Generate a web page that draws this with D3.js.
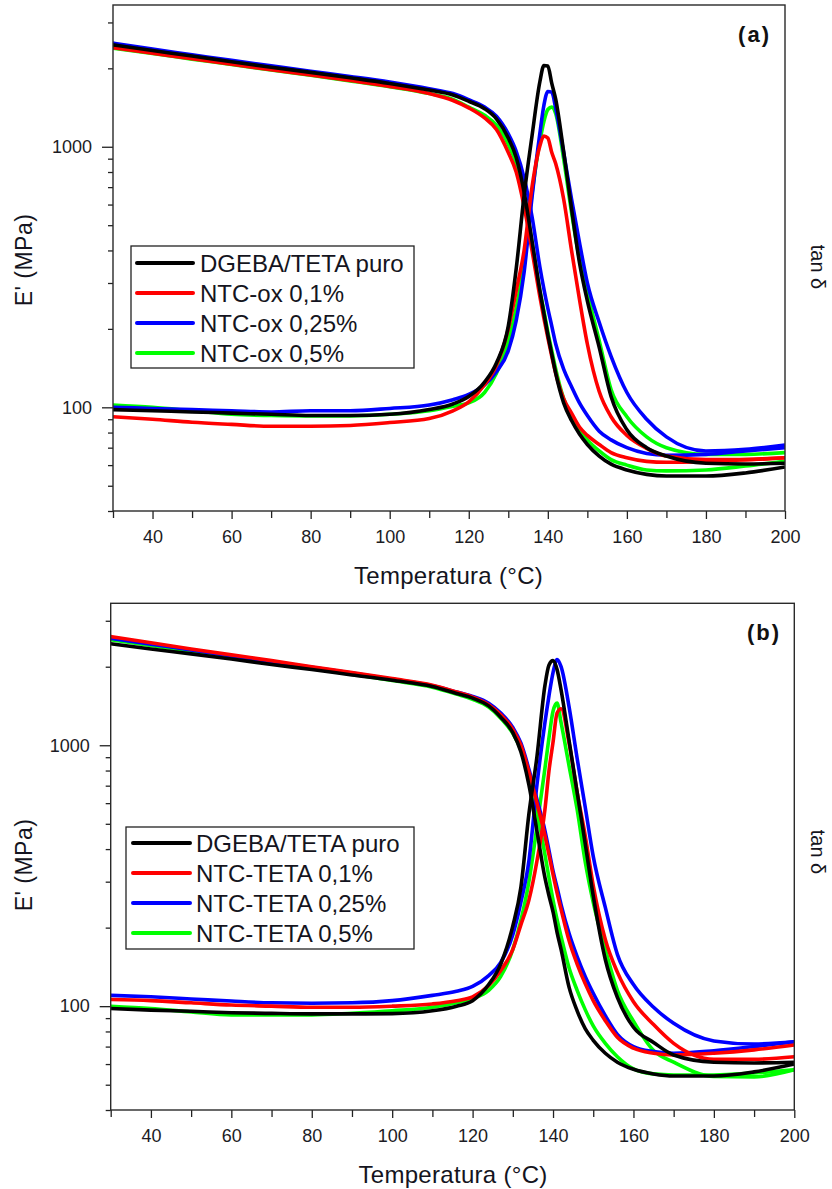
<!DOCTYPE html>
<html><head><meta charset="utf-8">
<script src="https://cdn.jsdelivr.net/npm/d3@7"></script>
<style>
body{margin:0;background:#fff}
svg{display:block}
text{font-family:"Liberation Sans",Arial,Helvetica,sans-serif}
</style>
</head><body>
<svg id="c" width="832" height="1189"></svg>
<script>
// ---------------- DATA ----------------
const temperatures = [30,40,50,60,70,80,90,100,110,116,120,124,127,130,132,134,136,138,139,140,141,142,144,146,148,150,153,156,160,165,170,180,190,200];
const xTickLabels = [40,60,80,100,120,140,160,180,200];
const xMinorTicks = [30,50,70,90,110,130,150,170,190];
const yTickLabels = [100,1000];
const yMinorTicks = [40,50,60,70,80,90,200,300,400,500,600,700,800,900,2000,3000];

const seriesColors = ["#000000","#ff0000","#0000ff","#00ff00"];
const legendA = ["DGEBA/TETA puro","NTC-ox 0,1%","NTC-ox 0,25%","NTC-ox 0,5%"];
const legendB = ["DGEBA/TETA puro","NTC-TETA 0,1%","NTC-TETA 0,25%","NTC-TETA 0,5%"];
const panelLabels = ["(a)","(b)"];

// Panel (a) storage modulus E' (MPa)
const eA_puro = [2460,2340,2230,2120,2020,1930,1840,1750,1650,1580,1495,1400,1280,1080,910,670,435,280,230,190,160,135,104,89,79,72,65,60.5,57.5,55.3,54.5,54.5,56,59];
const eA_01   = [2400,2285,2175,2075,1975,1885,1795,1705,1600,1505,1410,1290,1165,950,800,590,400,265,220,185,157,135,108,95,84,78,72,67,64,62,61.5,62,63,64];
const eA_025  = [2500,2370,2255,2145,2045,1950,1860,1770,1670,1600,1515,1420,1310,1120,960,760,540,345,285,240,205,175,140,120,104,93,81,75,70,66.5,65.5,66,68,70];
const eA_05   = [2390,2280,2170,2070,1970,1880,1790,1700,1600,1520,1420,1320,1210,1020,860,640,430,280,235,195,165,140,108,92,82,75,68,63,60,57.5,57,57.5,59.5,62];
// Panel (a) tan delta
const tA_puro = [0.049,0.0485,0.048,0.0475,0.047,0.0465,0.0465,0.047,0.049,0.0515,0.055,0.0625,0.074,0.1025,0.17,0.325,0.55,0.89,1.025,1.02,0.875,0.76,0.48,0.29,0.18,0.128,0.085,0.055,0.041,0.035,0.0325,0.0305,0.0303,0.0305];
const tA_01   = [0.046,0.045,0.0438,0.043,0.0423,0.0423,0.0426,0.0437,0.0453,0.0485,0.0525,0.061,0.0725,0.1,0.14,0.2,0.35,0.505,0.55,0.54,0.475,0.43,0.315,0.2,0.13,0.0875,0.0575,0.046,0.039,0.0348,0.0325,0.0315,0.0315,0.032];
const tA_025  = [0.05,0.0495,0.049,0.0485,0.048,0.0485,0.0485,0.0495,0.051,0.0535,0.056,0.061,0.0685,0.0825,0.1075,0.165,0.32,0.565,0.72,0.815,0.81,0.7,0.475,0.315,0.215,0.15,0.106,0.0785,0.057,0.045,0.0385,0.034,0.0345,0.0358];
const tA_05   = [0.051,0.05,0.0485,0.047,0.0465,0.0463,0.0463,0.047,0.0485,0.0505,0.052,0.057,0.0675,0.09,0.12,0.18,0.33,0.525,0.625,0.695,0.71,0.67,0.45,0.28,0.185,0.1375,0.09,0.0585,0.046,0.0385,0.035,0.033,0.033,0.0335];

// Panel (b) storage modulus E' (MPa)
const eB_puro = [2450,2340,2240,2140,2040,1950,1860,1775,1680,1580,1515,1415,1280,1118,945,705,469,310,265,230,192,165,118,96,82,74,66,61,57.3,55,54,54,56,60];
const eB_01   = [2610,2470,2340,2220,2110,2000,1900,1800,1700,1600,1530,1430,1310,1150,1000,790,600,450,380,320,272,235,178,145,122,105,88,76,69,66,65,66,68,71];
const eB_025  = [2570,2440,2320,2200,2090,1990,1890,1790,1690,1600,1540,1450,1330,1170,1020,810,620,470,395,330,285,245,190,155,130,112,92,78,70,67,66,67.5,70,73];
const eB_05   = [2540,2410,2290,2180,2070,1970,1870,1770,1670,1570,1500,1400,1270,1110,960,760,560,380,310,255,215,185,140,115,97,84,72,64,57.5,55,54.5,54.5,55.5,57];
// Panel (b) tan delta
const tB_puro = [0.049,0.0483,0.0478,0.0472,0.0469,0.0467,0.0467,0.0468,0.048,0.05,0.0525,0.0605,0.0725,0.1015,0.1425,0.2725,0.452,0.85,1.015,1.055,0.975,0.815,0.52,0.33,0.21,0.1325,0.0755,0.054,0.0415,0.0363,0.0325,0.0305,0.0303,0.0305];
const tB_01   = [0.053,0.0525,0.0515,0.0505,0.05,0.0495,0.0495,0.05,0.051,0.0525,0.0543,0.06,0.0685,0.0825,0.1025,0.1275,0.18,0.285,0.4,0.5135,0.665,0.69,0.508,0.3295,0.2255,0.145,0.09,0.0675,0.052,0.0425,0.036,0.0313,0.0313,0.032];
const tB_025  = [0.055,0.0543,0.0533,0.0523,0.0515,0.0513,0.0515,0.0525,0.055,0.057,0.0595,0.0655,0.0735,0.094,0.125,0.18,0.3525,0.6125,0.775,0.95,1.065,1.0,0.7,0.445,0.29,0.1875,0.1195,0.079,0.0605,0.0495,0.043,0.0368,0.0358,0.0365];
const tB_05   = [0.05,0.049,0.0475,0.0463,0.0463,0.0463,0.047,0.048,0.0495,0.0515,0.0535,0.0575,0.065,0.0825,0.1065,0.15,0.244,0.409,0.535,0.675,0.725,0.61,0.416,0.2835,0.179,0.125,0.0825,0.0575,0.0438,0.0338,0.0305,0.0269,0.0268,0.0285];

// ---------------- LAYOUT ----------------
const panels = [
  {left:113, right:785, top:5, bottom:511,
   names:legendA, label:panelLabels[0],
   E:[eA_puro,eA_01,eA_025,eA_05], T:[tA_puro,tA_01,tA_025,tA_05],
   legend:{x:131,y:246,w:283,h:122,lineX0:137,lineX1:193,textX:200,row0:263},
   labelPos:{x:771,y:42}, xTitle:{x:448.5,y:584}, yTitle:{x:24,y:260}, tanTitle:{x:818,y:267}},
  {left:110.7, right:794.3, top:603.3, bottom:1110,
   names:legendB, label:panelLabels[1],
   E:[eB_puro,eB_01,eB_025,eB_05], T:[tB_puro,tB_01,tB_025,tB_05],
   legend:{x:126,y:827,w:288,h:122,lineX0:133,lineX1:190,textX:196,row0:843},
   labelPos:{x:781,y:640}, xTitle:{x:453,y:1183}, yTitle:{x:24,y:865}, tanTitle:{x:818,y:852}}
];

const svg = d3.select("#c");
const drawOrder = [3,2,1,0];

panels.forEach((p, pi) => {
  const x = d3.scaleLinear().domain([30,200]).range([p.left, p.right]);
  const y = d3.scaleLog().domain([40,3500]).range([p.bottom, p.top]);
  const yt = d3.scaleLog().domain([0.02,1.75]).range([p.bottom, p.top]);
  const g = svg.append("g");

  const clipId = "clip" + pi;
  svg.append("defs").append("clipPath").attr("id", clipId)
    .append("rect").attr("x", p.left).attr("y", p.top)
    .attr("width", p.right - p.left).attr("height", p.bottom - p.top);

  // axes
  const styleAxis = sel => {
    sel.select(".domain").remove();
    sel.selectAll("line").attr("stroke", "#222").attr("stroke-width", 1.3);
    sel.selectAll("text").attr("font-size", 18).attr("fill", "#1c1c24")
      .attr("font-family", '"Liberation Sans",Arial,sans-serif');
  };
  g.append("g").attr("transform", `translate(${p.left},0)`)
    .call(d3.axisLeft(y).tickValues(yMinorTicks).tickSize(5).tickFormat(""))
    .call(styleAxis);
  g.append("g").attr("transform", `translate(${p.left},0)`)
    .call(d3.axisLeft(y).tickValues(yTickLabels).tickSize(11).tickPadding(10).tickFormat(d3.format("d")))
    .call(styleAxis);
  g.append("g").attr("transform", `translate(0,${p.bottom})`)
    .call(d3.axisBottom(x).tickValues(xMinorTicks).tickSize(7).tickFormat(""))
    .call(styleAxis);
  g.append("g").attr("transform", `translate(0,${p.bottom})`)
    .call(d3.axisBottom(x).tickValues(xTickLabels).tickSize(8).tickPadding(11).tickFormat(d3.format("d")))
    .call(styleAxis);

  // curves
  const curves = g.append("g").attr("clip-path", `url(#${clipId})`);
  const lineE = d3.line().x((d,i) => x(temperatures[i])).y(d => y(d)).curve(d3.curveMonotoneX);
  const lineT = d3.line().x((d,i) => x(temperatures[i])).y(d => yt(d)).curve(d3.curveMonotoneX);
  drawOrder.forEach(si => {
    curves.append("path").attr("d", lineE(p.E[si])).attr("fill", "none")
      .attr("stroke", seriesColors[si]).attr("stroke-width", 3.6).attr("stroke-linejoin", "round");
    curves.append("path").attr("d", lineT(p.T[si])).attr("fill", "none")
      .attr("stroke", seriesColors[si]).attr("stroke-width", 3.6).attr("stroke-linejoin", "round");
  });

  // frame
  g.append("rect").attr("x", p.left).attr("y", p.top)
    .attr("width", p.right - p.left).attr("height", p.bottom - p.top)
    .attr("fill", "none").attr("stroke", "#2a2a2a").attr("stroke-width", 1.4);

  // legend
  const L = p.legend;
  const lg = g.append("g");
  lg.append("rect").attr("x", L.x).attr("y", L.y).attr("width", L.w).attr("height", L.h)
    .attr("fill", "#fff").attr("stroke", "#222").attr("stroke-width", 1.3);
  p.names.forEach((n, i) => {
    const cy = L.row0 + i * 30;
    lg.append("line").attr("x1", L.lineX0).attr("x2", L.lineX1).attr("y1", cy).attr("y2", cy)
      .attr("stroke", seriesColors[i]).attr("stroke-width", 4).attr("stroke-linecap", "round");
    lg.append("text").attr("x", L.textX).attr("y", cy).attr("dy", "0.36em")
      .attr("font-size", 24).attr("fill", "#141420").text(n);
  });

  // titles
  g.append("text").attr("x", p.labelPos.x).attr("y", p.labelPos.y)
    .attr("text-anchor", "end").attr("font-size", 22).attr("font-weight", "bold")
    .attr("letter-spacing", 2).attr("fill", "#111").text(p.label);
  g.append("text").attr("x", p.xTitle.x).attr("y", p.xTitle.y)
    .attr("text-anchor", "middle").attr("font-size", 24).attr("letter-spacing", 0.3)
    .attr("fill", "#141420").text("Temperatura (°C)");
  g.append("text").attr("transform", `translate(${p.yTitle.x},${p.yTitle.y}) rotate(-90)`)
    .attr("text-anchor", "middle").attr("dy", "0.35em").attr("font-size", 23)
    .attr("letter-spacing", 0.5).attr("fill", "#141420").text("E' (MPa)");
  g.append("text").attr("transform", `translate(${p.tanTitle.x},${p.tanTitle.y}) rotate(90)`)
    .attr("text-anchor", "middle").attr("dy", "0.35em").attr("font-size", 20)
    .attr("fill", "#141420").text("tan δ");
});
</script>
</body></html>
